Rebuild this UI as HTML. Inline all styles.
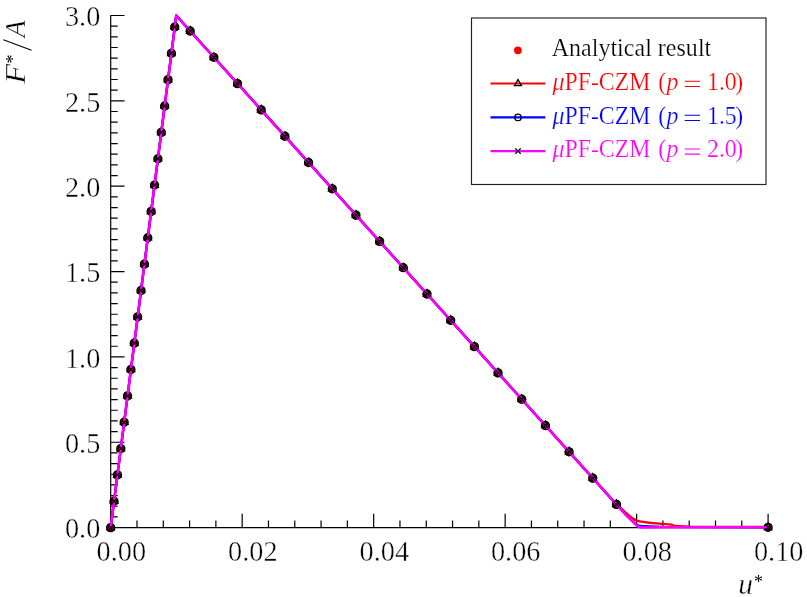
<!DOCTYPE html>
<html><head><meta charset="utf-8"><style>
html,body{margin:0;padding:0;background:#fff;}
svg{display:block;will-change:transform;}
text{font-family:"Liberation Serif",serif;}
.tk{stroke:#fff;stroke-width:0.4px;}
.lg{stroke:#fff;stroke-width:0.22px;}
</style></head><body>
<svg width="807" height="597" viewBox="0 0 807 597">
<rect width="807" height="597" fill="#fff"/>

<path d="M110.7 14.90V527.6H768.70M110.7 527.60h13.8M110.7 516.93h7M110.7 506.26h7M110.7 495.59h7M110.7 484.93h7M110.7 474.26h7M110.7 463.59h7M110.7 452.92h7M110.7 442.25h13.8M110.7 431.58h7M110.7 420.91h7M110.7 410.24h7M110.7 399.58h7M110.7 388.91h7M110.7 378.24h7M110.7 367.57h7M110.7 356.90h13.8M110.7 346.23h7M110.7 335.56h7M110.7 324.89h7M110.7 314.23h7M110.7 303.56h7M110.7 292.89h7M110.7 282.22h7M110.7 271.55h13.8M110.7 260.88h7M110.7 250.21h7M110.7 239.54h7M110.7 228.88h7M110.7 218.21h7M110.7 207.54h7M110.7 196.87h7M110.7 186.20h13.8M110.7 175.53h7M110.7 164.86h7M110.7 154.19h7M110.7 143.53h7M110.7 132.86h7M110.7 122.19h7M110.7 111.52h7M110.7 100.85h13.8M110.7 90.18h7M110.7 79.51h7M110.7 68.84h7M110.7 58.18h7M110.7 47.51h7M110.7 36.84h7M110.7 26.17h7M110.7 15.50h13.8M110.70 527.6v-13.8M137.00 527.6v-7M163.29 527.6v-7M189.59 527.6v-7M215.88 527.6v-7M242.18 527.6v-13.8M268.48 527.6v-7M294.77 527.6v-7M321.07 527.6v-7M347.36 527.6v-7M373.66 527.6v-13.8M399.96 527.6v-7M426.25 527.6v-7M452.55 527.6v-7M478.84 527.6v-7M505.14 527.6v-13.8M531.44 527.6v-7M557.73 527.6v-7M584.03 527.6v-7M610.32 527.6v-7M636.62 527.6v-13.8M662.92 527.6v-7M689.21 527.6v-7M715.51 527.6v-7M741.80 527.6v-7M768.10 527.6v-13.8" fill="none" stroke="#000" stroke-width="1.2"/>
<text transform="translate(100.3,538.4) scale(1.01,1.085)" font-size="28" text-anchor="end" class="tk">0.0</text>
<text transform="translate(100.3,453.1) scale(1.01,1.085)" font-size="28" text-anchor="end" class="tk">0.5</text>
<text transform="translate(100.3,367.7) scale(1.01,1.085)" font-size="28" text-anchor="end" class="tk">1.0</text>
<text transform="translate(100.3,282.4) scale(1.01,1.085)" font-size="28" text-anchor="end" class="tk">1.5</text>
<text transform="translate(100.3,197.0) scale(1.01,1.085)" font-size="28" text-anchor="end" class="tk">2.0</text>
<text transform="translate(100.3,111.7) scale(1.01,1.085)" font-size="28" text-anchor="end" class="tk">2.5</text>
<text transform="translate(100.3,26.3) scale(1.01,1.085)" font-size="28" text-anchor="end" class="tk">3.0</text>
<text transform="translate(121.3,561.0) scale(1.01,1.085)" font-size="28" text-anchor="middle" class="tk">0.00</text>
<text transform="translate(252.8,561.0) scale(1.01,1.085)" font-size="28" text-anchor="middle" class="tk">0.02</text>
<text transform="translate(384.3,561.0) scale(1.01,1.085)" font-size="28" text-anchor="middle" class="tk">0.04</text>
<text transform="translate(515.7,561.0) scale(1.01,1.085)" font-size="28" text-anchor="middle" class="tk">0.06</text>
<text transform="translate(647.2,561.0) scale(1.01,1.085)" font-size="28" text-anchor="middle" class="tk">0.08</text>
<text transform="translate(778.7,561.0) scale(1.01,1.085)" font-size="28" text-anchor="middle" class="tk">0.10</text>
<text x="738.3" y="593.6" font-size="29.5" font-style="italic" class="tk">u</text>
<text x="754.1" y="588.4" font-size="18">*</text>
<g transform="translate(24.8,0) rotate(-90)"><text transform="translate(-84.0,0) scale(1.085,1)" font-size="30.3" font-style="italic" class="tk">F</text><text x="-63.6" y="-5.6" font-size="18">*</text><path d="M-50.3 6.7L-39.8 -21.4" stroke="#000" stroke-width="1.15" fill="none"/><text transform="translate(-37.4,0) scale(0.93,1)" font-size="30.3" font-style="italic" class="tk">A</text></g>
<defs><circle id="md" r="4.1" cx="-0.3" cy="0.3" fill="#f00"/><path id="mt" d="M0 -4.5L3.8 2.2H-3.8Z" fill="none" stroke="#000" stroke-width="1.3" stroke-linejoin="miter"/><circle id="mo" r="3.95" fill="none" stroke="#000" stroke-width="1.4"/><path id="mx" d="M-3.0 -3.0L3.0 3.0M-3.0 3.0L3.0 -3.0" stroke="#000" stroke-width="1.3" fill="none"/></defs>
<use href="#md" x="110.70" y="527.60"/><use href="#md" x="114.07" y="501.25"/><use href="#md" x="117.45" y="474.90"/><use href="#md" x="120.82" y="448.55"/><use href="#md" x="124.19" y="422.20"/><use href="#md" x="127.56" y="395.85"/><use href="#md" x="130.94" y="369.50"/><use href="#md" x="134.31" y="343.15"/><use href="#md" x="137.68" y="316.80"/><use href="#md" x="141.06" y="290.45"/><use href="#md" x="144.43" y="264.10"/><use href="#md" x="147.80" y="237.75"/><use href="#md" x="151.17" y="211.40"/><use href="#md" x="154.55" y="185.05"/><use href="#md" x="157.92" y="158.70"/><use href="#md" x="161.29" y="132.35"/><use href="#md" x="164.67" y="106.00"/><use href="#md" x="168.04" y="79.65"/><use href="#md" x="171.41" y="53.30"/><use href="#md" x="174.78" y="26.95"/><use href="#md" x="190.21" y="31.00"/><use href="#md" x="213.89" y="57.30"/><use href="#md" x="237.57" y="83.60"/><use href="#md" x="261.25" y="109.90"/><use href="#md" x="284.93" y="136.20"/><use href="#md" x="308.61" y="162.50"/><use href="#md" x="332.29" y="188.80"/><use href="#md" x="355.97" y="215.10"/><use href="#md" x="379.65" y="241.40"/><use href="#md" x="403.33" y="267.70"/><use href="#md" x="427.02" y="294.00"/><use href="#md" x="450.70" y="320.30"/><use href="#md" x="474.38" y="346.60"/><use href="#md" x="498.06" y="372.90"/><use href="#md" x="521.74" y="399.20"/><use href="#md" x="545.42" y="425.50"/><use href="#md" x="569.10" y="451.80"/><use href="#md" x="592.78" y="478.10"/><use href="#md" x="616.46" y="504.40"/><use href="#md" x="768.10" y="527.30"/>
<path d="M110.70 527.60L176.25 15.50L612.6 500.1L624.6 511.7C628 514.8 631.5 518.6 636.5 520.6C642 522.4 650 522.9 662.5 523.9L671.4 524.6L674.6 526.0L690 526.6L768.10 526.9" fill="none" stroke="#f00" stroke-width="2.4" stroke-linejoin="round"/>
<use href="#mt" x="110.70" y="527.60"/><use href="#mt" x="114.07" y="501.25"/><use href="#mt" x="117.45" y="474.90"/><use href="#mt" x="120.82" y="448.55"/><use href="#mt" x="124.19" y="422.20"/><use href="#mt" x="127.56" y="395.85"/><use href="#mt" x="130.94" y="369.50"/><use href="#mt" x="134.31" y="343.15"/><use href="#mt" x="137.68" y="316.80"/><use href="#mt" x="141.06" y="290.45"/><use href="#mt" x="144.43" y="264.10"/><use href="#mt" x="147.80" y="237.75"/><use href="#mt" x="151.17" y="211.40"/><use href="#mt" x="154.55" y="185.05"/><use href="#mt" x="157.92" y="158.70"/><use href="#mt" x="161.29" y="132.35"/><use href="#mt" x="164.67" y="106.00"/><use href="#mt" x="168.04" y="79.65"/><use href="#mt" x="171.41" y="53.30"/><use href="#mt" x="174.78" y="26.95"/><use href="#mt" x="190.21" y="31.00"/><use href="#mt" x="213.89" y="57.30"/><use href="#mt" x="237.57" y="83.60"/><use href="#mt" x="261.25" y="109.90"/><use href="#mt" x="284.93" y="136.20"/><use href="#mt" x="308.61" y="162.50"/><use href="#mt" x="332.29" y="188.80"/><use href="#mt" x="355.97" y="215.10"/><use href="#mt" x="379.65" y="241.40"/><use href="#mt" x="403.33" y="267.70"/><use href="#mt" x="427.02" y="294.00"/><use href="#mt" x="450.70" y="320.30"/><use href="#mt" x="474.38" y="346.60"/><use href="#mt" x="498.06" y="372.90"/><use href="#mt" x="521.74" y="399.20"/><use href="#mt" x="545.42" y="425.50"/><use href="#mt" x="569.10" y="451.80"/><use href="#mt" x="592.78" y="478.10"/><use href="#mt" x="616.46" y="504.40"/><use href="#mt" x="768.10" y="527.30"/>
<path d="M110.70 527.60L176.25 15.50L626 515.0L635.0 523.7Q638.6 526.5 643 526.3L662 526.9L768.10 527.2" fill="none" stroke="#00f" stroke-width="2.4" stroke-linejoin="round"/>
<use href="#mo" x="110.70" y="527.60"/><use href="#mo" x="114.07" y="501.25"/><use href="#mo" x="117.45" y="474.90"/><use href="#mo" x="120.82" y="448.55"/><use href="#mo" x="124.19" y="422.20"/><use href="#mo" x="127.56" y="395.85"/><use href="#mo" x="130.94" y="369.50"/><use href="#mo" x="134.31" y="343.15"/><use href="#mo" x="137.68" y="316.80"/><use href="#mo" x="141.06" y="290.45"/><use href="#mo" x="144.43" y="264.10"/><use href="#mo" x="147.80" y="237.75"/><use href="#mo" x="151.17" y="211.40"/><use href="#mo" x="154.55" y="185.05"/><use href="#mo" x="157.92" y="158.70"/><use href="#mo" x="161.29" y="132.35"/><use href="#mo" x="164.67" y="106.00"/><use href="#mo" x="168.04" y="79.65"/><use href="#mo" x="171.41" y="53.30"/><use href="#mo" x="174.78" y="26.95"/><use href="#mo" x="190.21" y="31.00"/><use href="#mo" x="213.89" y="57.30"/><use href="#mo" x="237.57" y="83.60"/><use href="#mo" x="261.25" y="109.90"/><use href="#mo" x="284.93" y="136.20"/><use href="#mo" x="308.61" y="162.50"/><use href="#mo" x="332.29" y="188.80"/><use href="#mo" x="355.97" y="215.10"/><use href="#mo" x="379.65" y="241.40"/><use href="#mo" x="403.33" y="267.70"/><use href="#mo" x="427.02" y="294.00"/><use href="#mo" x="450.70" y="320.30"/><use href="#mo" x="474.38" y="346.60"/><use href="#mo" x="498.06" y="372.90"/><use href="#mo" x="521.74" y="399.20"/><use href="#mo" x="545.42" y="425.50"/><use href="#mo" x="569.10" y="451.80"/><use href="#mo" x="592.78" y="478.10"/><use href="#mo" x="616.46" y="504.40"/><use href="#mo" x="768.10" y="527.30"/>
<path d="M110.70 527.60L176.25 15.50L626 515.0L636.0 524.8Q638.8 527.7 643.5 527.6L664 527.35L768.10 527.3" fill="none" stroke="#f0f" stroke-width="2.5" stroke-linejoin="round"/>
<use href="#mx" x="110.70" y="527.60"/><use href="#mx" x="114.07" y="501.25"/><use href="#mx" x="117.45" y="474.90"/><use href="#mx" x="120.82" y="448.55"/><use href="#mx" x="124.19" y="422.20"/><use href="#mx" x="127.56" y="395.85"/><use href="#mx" x="130.94" y="369.50"/><use href="#mx" x="134.31" y="343.15"/><use href="#mx" x="137.68" y="316.80"/><use href="#mx" x="141.06" y="290.45"/><use href="#mx" x="144.43" y="264.10"/><use href="#mx" x="147.80" y="237.75"/><use href="#mx" x="151.17" y="211.40"/><use href="#mx" x="154.55" y="185.05"/><use href="#mx" x="157.92" y="158.70"/><use href="#mx" x="161.29" y="132.35"/><use href="#mx" x="164.67" y="106.00"/><use href="#mx" x="168.04" y="79.65"/><use href="#mx" x="171.41" y="53.30"/><use href="#mx" x="174.78" y="26.95"/><use href="#mx" x="190.21" y="31.00"/><use href="#mx" x="213.89" y="57.30"/><use href="#mx" x="237.57" y="83.60"/><use href="#mx" x="261.25" y="109.90"/><use href="#mx" x="284.93" y="136.20"/><use href="#mx" x="308.61" y="162.50"/><use href="#mx" x="332.29" y="188.80"/><use href="#mx" x="355.97" y="215.10"/><use href="#mx" x="379.65" y="241.40"/><use href="#mx" x="403.33" y="267.70"/><use href="#mx" x="427.02" y="294.00"/><use href="#mx" x="450.70" y="320.30"/><use href="#mx" x="474.38" y="346.60"/><use href="#mx" x="498.06" y="372.90"/><use href="#mx" x="521.74" y="399.20"/><use href="#mx" x="545.42" y="425.50"/><use href="#mx" x="569.10" y="451.80"/><use href="#mx" x="592.78" y="478.10"/><use href="#mx" x="616.46" y="504.40"/><use href="#mx" x="768.10" y="527.30"/>
<rect x="471.5" y="18.0" width="294.5" height="166.5" fill="#fff" stroke="#222" stroke-width="1.15"/>
<circle cx="517.9" cy="50.3" r="3.9" fill="#f00"/>
<text transform="translate(551.7,56.0) scale(1,1.09)" font-size="24" class="lg" letter-spacing="0.02">Analytical result</text>
<path d="M490.5 83.5H545.4" stroke="#f00" stroke-width="2.15"/>
<text transform="translate(0,89.8) scale(1,1.09)" font-size="23.8" fill="#f00" class="lg"><tspan x="552.5" font-style="italic">μ</tspan>PF-CZM<tspan x="658.3">(</tspan><tspan x="666.4" font-style="italic">p</tspan><tspan x="707.0">1.0</tspan><tspan x="735.3">)</tspan></text>
<path d="M684.7 81.3H700.1M684.7 86.5H700.1" stroke="#f00" stroke-width="1.05" fill="none"/>
<path d="M490.5 117.4H545.4" stroke="#00f" stroke-width="2.15"/>
<text transform="translate(0,123.7) scale(1,1.09)" font-size="23.8" fill="#00f" class="lg"><tspan x="552.5" font-style="italic">μ</tspan>PF-CZM<tspan x="658.3">(</tspan><tspan x="666.4" font-style="italic">p</tspan><tspan x="707.0">1.5</tspan><tspan x="735.3">)</tspan></text>
<path d="M684.7 115.2H700.1M684.7 120.4H700.1" stroke="#00f" stroke-width="1.05" fill="none"/>
<path d="M490.5 151.1H545.4" stroke="#f0f" stroke-width="2.15"/>
<text transform="translate(0,157.4) scale(1,1.09)" font-size="23.8" fill="#f0f" class="lg"><tspan x="552.5" font-style="italic">μ</tspan>PF-CZM<tspan x="658.3">(</tspan><tspan x="666.4" font-style="italic">p</tspan><tspan x="707.0">2.0</tspan><tspan x="735.3">)</tspan></text>
<path d="M684.7 148.9H700.1M684.7 154.1H700.1" stroke="#f0f" stroke-width="1.05" fill="none"/>
<path d="M518 79.6L521.5 85.6H514.5Z" fill="none" stroke="#000" stroke-width="1.3"/>
<circle cx="518" cy="117.4" r="3.2" fill="none" stroke="#000" stroke-width="1.3"/>
<path d="M515.3 148.4L520.7 153.8M515.3 153.8L520.7 148.4" stroke="#000" stroke-width="1.3"/>
</svg></body></html>
